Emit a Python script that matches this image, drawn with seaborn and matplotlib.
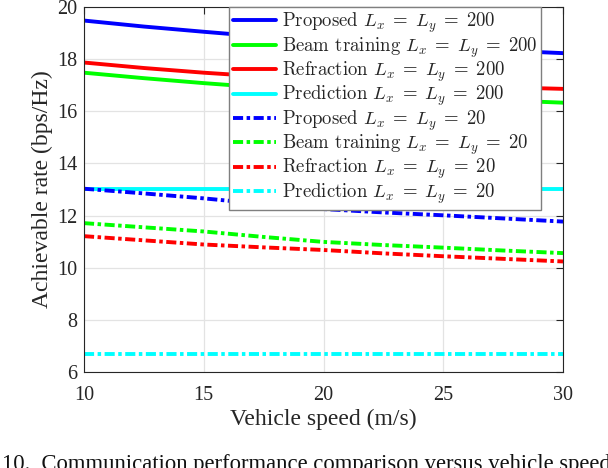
import numpy as np
import pandas as pd
import matplotlib
matplotlib.use("Agg")
import matplotlib.pyplot as plt
import seaborn as sns

# ---- data ----
speed = [10, 12.5, 15, 17.5, 20, 22.5, 25, 27.5, 30]
proposed_200 = [19.48, 19.25, 19.05, 18.86, 18.70, 18.56, 18.44, 18.33, 18.23]
beam_200 = [17.48, 17.27, 17.08, 16.91, 16.76, 16.63, 16.52, 16.42, 16.33]
refraction_200 = [17.87, 17.66, 17.48, 17.33, 17.20, 17.09, 17.00, 16.92, 16.86]
prediction_200 = [13.0, 13.0, 13.0, 13.0, 13.0, 13.0, 13.0, 13.0, 13.0]
proposed_20 = [13.03, 12.85, 12.66, 12.44, 12.25, 12.12, 12.01, 11.89, 11.77]
beam_20 = [11.71, 11.55, 11.39, 11.18, 10.99, 10.87, 10.77, 10.66, 10.56]
refraction_20 = [11.21, 11.05, 10.89, 10.78, 10.68, 10.55, 10.44, 10.34, 10.24]
prediction_20 = [6.69, 6.69, 6.69, 6.69, 6.69, 6.69, 6.69, 6.69, 6.69]

labels = [
    r"Proposed $L_x\;=\;L_y\;=\;200$",
    r"Beam training $L_x\;=\;L_y\;=\;200$",
    r"Refraction $L_x\;=\;L_y\;=\;200$",
    r"Prediction $L_x\;=\;L_y\;=\;200$",
    r"Proposed $L_x\;=\;L_y\;=\;20$",
    r"Beam training $L_x\;=\;L_y\;=\;20$",
    r"Refraction $L_x\;=\;L_y\;=\;20$",
    r"Prediction $L_x\;=\;L_y\;=\;20$",
]
series = [proposed_200, beam_200, refraction_200, prediction_200,
          proposed_20, beam_20, refraction_20, prediction_20]
colors = ["#0000FF", "#00FF00", "#FF0000", "#00FFFF"] * 2
dashdot = (0, (2.6, 0.9, 0.9, 0.9))
styles = ["-"] * 4 + [dashdot] * 4

xticks = [10, 15, 20, 25, 30]
yticks = [6, 8, 10, 12, 14, 16, 18, 20]

# ---- style ----
sns.set_style("whitegrid")
plt.rcParams["font.family"] = ["Liberation Serif", "DejaVu Serif"]
plt.rcParams["mathtext.fontset"] = "cm"

fig = plt.figure(figsize=(6.08, 4.68), dpi=100)
ax = fig.add_axes([84 / 608, 1 - 372 / 468, (563 - 84) / 608, (372 - 7) / 468])

for lab, ys, c, ls in zip(labels, series, colors, styles):
    sns.lineplot(x=speed, y=ys, ax=ax, color=c, linewidth=2.8,
                 linestyle=ls, label=lab)

ax.set_xlim(10, 30)
ax.set_ylim(6, 20)
ax.set_xticks(xticks)
ax.set_yticks(yticks)
ax.tick_params(direction="in", length=5, width=0.8, colors="#262626",
               labelsize=14.5, top=True, right=True)
ax.tick_params(axis="x", pad=10)
ax.tick_params(axis="y", pad=5)
ax.grid(True, color="#e3e3e3", linewidth=0.9)
for sp in ax.spines.values():
    sp.set_color("#262626")
    sp.set_linewidth(0.8)

ax.set_xlabel("Vehicle speed (m/s)", fontsize=17, color="#262626", labelpad=3)
ax.set_ylabel("Achievable rate (bps/Hz)", fontsize=17, color="#262626", labelpad=3)

leg = ax.legend(loc="upper right", bbox_to_anchor=(541 / 608, 1 - 7 / 468),
                bbox_transform=fig.transFigure, borderaxespad=0,
                prop={"family": "cmr10", "size": 13.5}, frameon=True,
                fancybox=False, framealpha=1, edgecolor="#7f7f7f",
                handlelength=2.3, handletextpad=0.3, labelspacing=0.0,
                borderpad=0.2)
leg.get_frame().set_linewidth(1.0)

fig.text(2 / 608, -2 / 468,
         "10.  Communication performance comparison versus vehicle speed",
         fontsize=16.3, ha="left", va="baseline", color="#111111")

fig.savefig("out.png", dpi=100)
